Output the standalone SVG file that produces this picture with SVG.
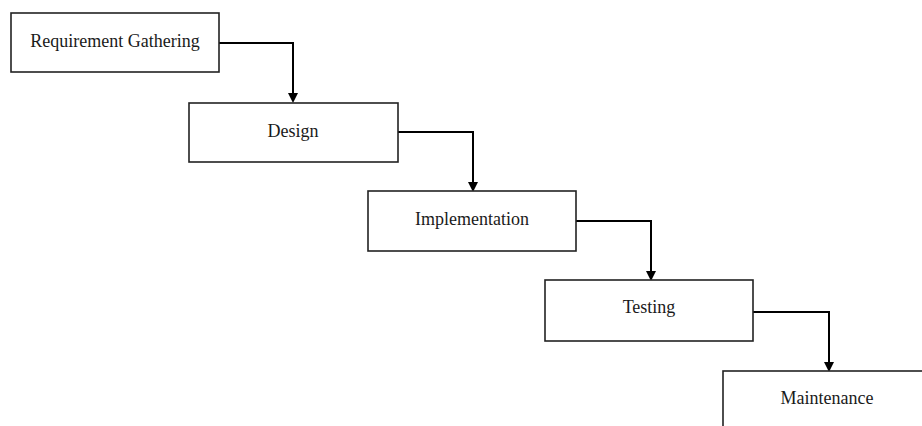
<svg xmlns="http://www.w3.org/2000/svg" width="922" height="426" viewBox="0 0 922 426">
<style>
.box{fill:#fff;stroke:#222;stroke-width:1.6}
.lbl{font-family:"Liberation Serif","Times New Roman",serif;font-size:18px;fill:#1a1a1a;text-anchor:middle}
.con{fill:none;stroke:#000;stroke-width:2}
</style>
<defs>
<marker id="ah" markerWidth="10" markerHeight="10" refX="8" refY="5" orient="auto" markerUnits="userSpaceOnUse">
<path d="M0,0 L10,5 L0,10 Z" fill="#000"/>
</marker>
</defs>
<rect width="922" height="426" fill="#fff"/>
<g id="connectors">
<path class="con" d="M219,43 H293 V101" marker-end="url(#ah)"/>
<path class="con" d="M398,132 H473 V190" marker-end="url(#ah)"/>
<path class="con" d="M576,221 H651 V279" marker-end="url(#ah)"/>
<path class="con" d="M753,312 H829 V370" marker-end="url(#ah)"/>
</g>
<g id="n1"><rect class="box" x="11" y="13" width="208" height="59"/><text class="lbl" x="115" y="47">Requirement Gathering</text></g>
<g id="n2"><rect class="box" x="189" y="103" width="209" height="59"/><text class="lbl" x="293" y="137">Design</text></g>
<g id="n3"><rect class="box" x="368" y="191" width="208" height="60"/><text class="lbl" x="472" y="225">Implementation</text></g>
<g id="n4"><rect class="box" x="545" y="280" width="208" height="61"/><text class="lbl" x="649" y="313">Testing</text></g>
<g id="n5"><rect class="box" x="723" y="371" width="208" height="70"/><text class="lbl" x="827" y="404">Maintenance</text></g>
</svg>
